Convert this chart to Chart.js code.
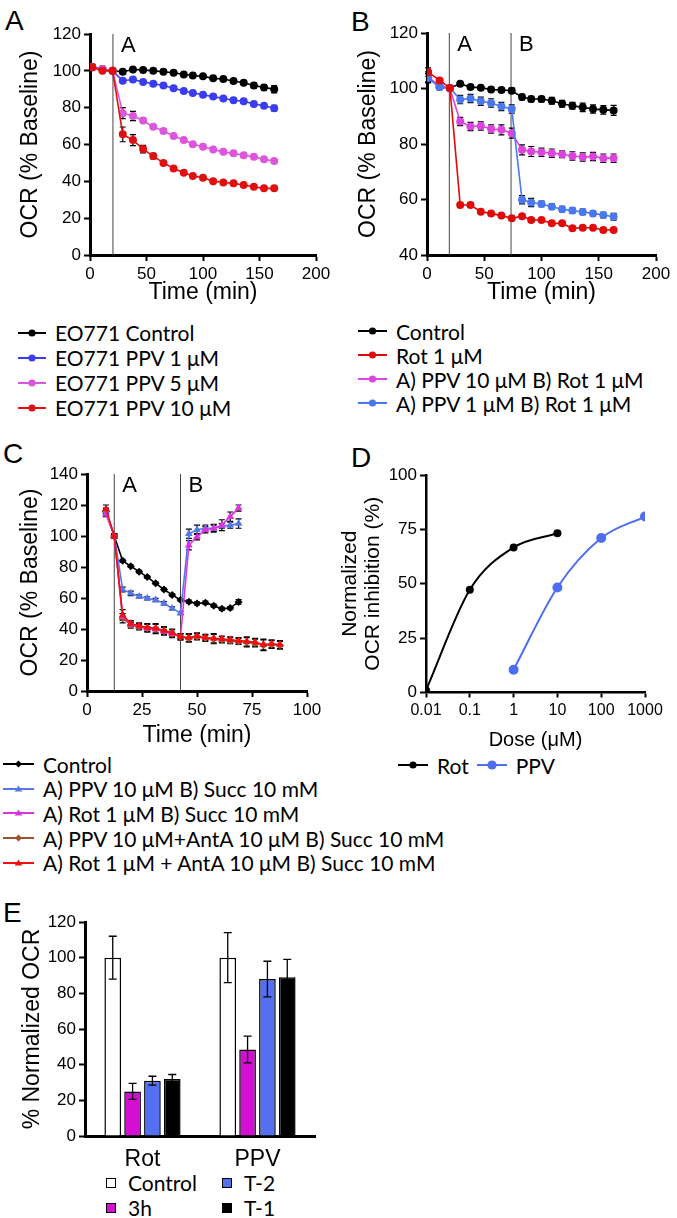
<!DOCTYPE html>
<html>
<head>
<meta charset="utf-8">
<script src="https://cdn.jsdelivr.net/npm/chart.js@4.4.0/dist/chart.umd.min.js"></script>
<style>
  body { margin: 0; background: #fff; width: 677px; height: 1218px; position: relative; overflow: hidden; }
  canvas { position: absolute; }
  .letter { position: absolute; font: 28px "Liberation Sans", Arial, sans-serif; line-height: 28px; color: #000; }
  .leg { position: absolute; font: 21px Lato, "Open Sans", sans-serif; color: #000; white-space: nowrap; }
  .leg .row { display: flex; align-items: center; }
  .leg svg { flex: none; }
</style>
</head>
<body>
<div class="letter" style="left:5px;top:7px">A</div>
<div class="letter" style="left:351px;top:8px">B</div>
<div class="letter" style="left:3px;top:440px">C</div>
<div class="letter" style="left:351px;top:444px">D</div>
<div class="letter" style="left:3px;top:899px">E</div>

<div class="leg" id="legA" style="left:18px;top:320px"></div>
<div class="leg" id="legB" style="left:358px;top:319px"></div>
<div class="leg" id="legC" style="left:3px;top:752px"></div>
<div class="leg" id="legD" style="left:398px;top:753px"></div>
<div class="leg" id="legE" style="left:106px;top:1170px"></div>

<script>
// ---- Panel A: EO771 cells, PPV doses
const timesA = [2, 11, 20, 29, 38, 47, 56, 65, 74, 83, 91, 100, 109, 118, 127, 136, 145, 154, 163];
const ctrlA = [102, 101, 100, 99.5, 100.7, 100.5, 100, 99.5, 99, 98, 97.5, 97, 96, 95.5, 94.5, 93.5, 92, 91, 90];
const ppv1A = [102, 101, 100, 94.6, 95.3, 94, 93, 92, 90.5, 89, 88, 87, 86, 85, 84, 83.5, 82, 81, 79.7];
const ppv5A = [102, 101, 100, 77, 75.5, 73, 69.6, 67.3, 64.6, 62.4, 60.2, 58.8, 57.3, 56, 55.2, 54.2, 53.3, 52, 51];
const ppv10A = [102, 100, 100, 65.5, 62.4, 57.5, 53.7, 50, 47, 44.7, 42.9, 42, 40.1, 39.4, 38.9, 38, 37.1, 36.2, 36.2];
const ctrlErrA = [1.5, 0.5, 0.5, 0.8, 0.8, 0.6, 0.6, 0.6, 0.6, 0.8, 0.8, 0.8, 0.8, 0.8, 1, 1, 1.5, 1.5, 2];
const ppv1ErrA = [1, 0.5, 0.5, 0.8, 0.8, 0.6, 0.6, 0.6, 0.6, 0.6, 0.6, 0.6, 0.8, 1, 1, 1, 1, 1, 1.5];
const ppv5ErrA = [1, 0.5, 0.5, 3, 2.5, 1.2, 1, 1, 0.8, 0.8, 0.8, 0.8, 0.8, 0.8, 0.8, 0.8, 0.8, 0.8, 1];
const ppv10ErrA = [1, 0.5, 0.5, 4, 3, 2, 1.5, 1, 0.8, 0.8, 0.8, 0.8, 0.8, 0.8, 0.8, 0.8, 0.8, 0.8, 0.8];
const labelsA = ['EO771 Control', 'EO771 PPV 1 μM', 'EO771 PPV 5 μM', 'EO771 PPV 10 μM'];
const marksA = [{ x: 20.3, label: 'A' }];

// ---- Panel B: sequential injections
const timesB = [1, 11, 20, 29, 38, 47, 56, 65, 74, 83, 91, 100, 109, 118, 127, 136, 145, 154, 163];
const ctrlB = [104, 100.5, 100.2, 101.7, 100.5, 100.3, 99.6, 99.5, 99.2, 96.9, 96.2, 96.2, 95.6, 94.5, 93.8, 93.2, 92.6, 92.3, 92.1];
const rotB = [105.9, 102.9, 100.2, 58, 58, 55.6, 55, 54.2, 53.2, 54, 52.6, 52.6, 51.4, 51.4, 49.6, 49.8, 49.8, 49, 49];
const ppv10RotB = [104, 101, 100, 88.1, 86.3, 86.5, 85.4, 85.1, 83.9, 77.9, 77.3, 77, 76.7, 76.3, 75.7, 75.3, 75.5, 74.9, 74.9];
const ppv1RotB = [103.8, 100.5, 100.2, 96, 96.4, 95.4, 94.8, 93.5, 92.6, 59.9, 58.9, 58.4, 57.4, 56.5, 56, 55.5, 55, 54.4, 53.8];
const ctrlErrB = [2, 0.8, 0.5, 0.8, 0.8, 0.8, 0.8, 0.8, 1, 1, 1, 1, 1.2, 1.2, 1.2, 1.5, 1.5, 1.5, 1.8];
const rotErrB = [1.5, 0.8, 0.5, 0.8, 0.8, 0.5, 0.5, 0.5, 0.5, 0.5, 0.5, 0.5, 0.5, 0.5, 0.5, 0.5, 0.5, 0.5, 0.5];
const ppv10RotErrB = [1.5, 0.8, 0.5, 1.5, 1.5, 1.5, 1.5, 1.8, 1.8, 1.8, 1.8, 1.5, 1.5, 1.2, 1.5, 1.5, 1.5, 1.5, 1.5];
const ppv1RotErrB = [1.5, 0.8, 0.5, 1.5, 1.5, 1.5, 1.5, 1.5, 1.5, 1.5, 1.5, 1, 1, 1, 1, 1, 1, 1, 1.2];
const labelsB = ['Control', 'Rot 1 μM', 'A) PPV 10 μM B) Rot 1 μM', 'A) PPV 1 μM B) Rot 1 μM'];
const marksB = [{ x: 19.5, label: 'A' }, { x: 73.4, label: 'B' }];

// ---- Panel C: succinate rescue
const timesC = [8.6, 12.4, 16.2, 19.9, 23.7, 27.4, 31.2, 35, 38.7, 42.5, 46.3, 50, 53.8, 57.6, 61.3, 65.1, 68.9, 72.6, 76.4, 80.2, 83.9, 87.7];
const ctrlC = [116, 100, 84, 80.5, 77, 73.5, 69.5, 65.5, 62, 58.7, 57.6, 56.5, 57, 55, 53, 53.5, 57.5];
const ppvSuccC = [116, 100, 65.5, 63, 61, 59.8, 58.7, 56.6, 53.3, 50.3, 101.5, 104, 105, 105, 106.5, 107, 108];
const rotSuccC = [114, 100, 48, 43, 42, 40.5, 40, 38.5, 37, 35, 94, 99.5, 104, 105, 107, 112.5, 118];
const ppvAntSuccC = [116, 100, 47, 42.5, 41.5, 40.5, 40, 38.5, 37, 35, 34, 35, 34, 33.5, 33, 32.5, 32, 31.5, 31, 29.5, 30, 29.5];
const rotAntSuccC = [117.5, 100, 49, 43.5, 42, 41, 40.5, 39, 37.5, 35, 34.5, 35.5, 34.5, 34, 33.5, 33, 32.5, 32, 31.5, 30, 30.5, 30];
const ctrlErrC = [1, 1, 1, 0.8, 0.8, 0.8, 0.8, 0.8, 0.8, 0.8, 1, 1, 1, 1, 1, 1, 1.5];
const ppvSuccErrC = [1.5, 1, 1.5, 1.5, 1, 1, 1, 1, 1, 1, 3, 3, 2, 2.5, 1.5, 2, 3];
const rotSuccErrC = [1.5, 1, 2, 1.5, 1, 1, 1, 1, 1, 1, 3, 2, 2, 2, 3.5, 3, 2];
const ppvAntSuccErrC = [2, 1.5, 3, 2, 2, 2.5, 3, 2.5, 2.5, 2, 2.5, 2, 2, 3, 2, 2, 2, 3, 2.5, 3.5, 2.5, 2.5];
const rotAntSuccErrC = [2.5, 1.5, 3.5, 2, 2, 2.5, 3, 2.5, 2.5, 2, 2.5, 2, 2, 3, 2, 2, 2, 3, 2.5, 3.5, 2.5, 2.5];
const labelsC = ['Control', 'A) PPV 10 μM B) Succ 10 mM', 'A) Rot 1 μM B) Succ 10 mM', 'A) PPV 10 μM+AntA 10 μM B) Succ 10 mM', 'A) Rot 1 μM + AntA 10 μM B) Succ 10 mM'];
const marksC = [{ x: 12.4, label: 'A' }, { x: 42.5, label: 'B' }];

// ---- Panel D: dose response
const doseTicksD = [0.01, 0.1, 1, 10, 100, 1000];
const rotDoseD = [0.01, 0.1, 1, 10];
const rotInhD = [1, 47.2, 66.7, 73.2];
const ppvDoseD = [1, 10, 100, 1000];
const ppvInhD = [10.5, 48.3, 71, 80.9];
const labelsD = ['Rot', 'PPV'];

// ---- Panel E: normalized OCR bars
const groupsE = ['Rot', 'PPV'];
const ctrlE = [100, 100];
const h3E = [25, 48.5];
const t2E = [31, 88];
const t1E = [32, 89];
const ctrlErrE = [12, 14];
const h3ErrE = [4.5, 7.5];
const t2ErrE = [2.5, 10];
const t1ErrE = [2.5, 10];
const labelsE = ['Control', 'T-2', '3h', 'T-1'];

// ---------------------------------------------------------------
const tickFont = { family: 'Liberation Sans, Arial', size: 17 };
const titleFont = { family: 'Liberation Sans, Arial', size: 23 };

function drawErrors(chart) {
  const ctx = chart.ctx;
  const yScale = chart.scales.y;
  chart.data.datasets.forEach((ds, i) => {
    if (!ds.errors) return;
    const meta = chart.getDatasetMeta(i);
    ctx.save();
    ctx.strokeStyle = '#000';
    ctx.lineWidth = ds.errWidth || 1.2;
    meta.data.forEach((el, j) => {
      const e = ds.errors[j];
      if (!e) return;
      const v = meta.controller.getParsed(j).y;
      const y1 = yScale.getPixelForValue(v + e);
      const y2 = yScale.getPixelForValue(v - e);
      const cap = ds.capSize || 3;
      ctx.beginPath();
      ctx.moveTo(el.x, y1); ctx.lineTo(el.x, y2);
      ctx.moveTo(el.x - cap, y1); ctx.lineTo(el.x + cap, y1);
      ctx.moveTo(el.x - cap, y2); ctx.lineTo(el.x + cap, y2);
      ctx.stroke();
    });
    ctx.restore();
  });
}

// error bars sit under the markers on line charts, over the bars on bar charts
const errorBars = {
  id: 'errorBars',
  beforeDatasetsDraw(chart) { if (chart.config.type === 'line') drawErrors(chart); },
  afterDatasetsDraw(chart) { if (chart.config.type === 'bar') drawErrors(chart); }
};

const stepMarks = {
  id: 'stepMarks',
  beforeDatasetsDraw(chart, args, opts) {
    const { ctx, chartArea } = chart;
    (opts.marks || []).forEach(m => {
      const px = chart.scales.x.getPixelForValue(m.x);
      ctx.save();
      ctx.strokeStyle = '#444';
      ctx.lineWidth = 1;
      ctx.beginPath();
      ctx.moveTo(px, chartArea.top);
      ctx.lineTo(px, chartArea.bottom);
      ctx.stroke();
      ctx.fillStyle = '#000';
      ctx.font = '22px "Liberation Sans", Arial';
      ctx.textBaseline = 'alphabetic';
      ctx.fillText(m.label, px + 8, chartArea.top + 18);
      ctx.restore();
    });
  }
};

function axis(min, max, step, fitKey, fitSize, title, extra) {
  const a = {
    type: 'linear', min, max,
    ticks: { stepSize: step, color: '#000', font: tickFont, padding: 3 },
    grid: { display: true, drawOnChartArea: false, drawTicks: true, tickLength: 6, tickWidth: 2, tickColor: '#000' },
    border: { display: true, color: '#000', width: 3 },
    afterFit: s => { s[fitKey] = fitSize; }
  };
  if (title) a.title = title;
  return Object.assign(a, extra || {});
}

function pts(xs, ys) {
  return ys.map((y, i) => ({ x: xs[i], y }));
}

function lineSet(label, xs, ys, errs, color, style, radius) {
  return {
    label, data: pts(xs, ys), errors: errs,
    borderColor: color, backgroundColor: color, borderWidth: 1.6,
    pointStyle: style || 'circle', pointRadius: radius || 4, pointBorderWidth: 0,
    pointBackgroundColor: color
  };
}

function makeChart(left, top, w, h, config) {
  const c = document.createElement('canvas');
  c.width = w; c.height = h;
  c.style.left = left + 'px'; c.style.top = top + 'px';
  c.style.width = w + 'px'; c.style.height = h + 'px';
  document.body.appendChild(c);
  config.options = Object.assign({
    responsive: false, animation: false, devicePixelRatio: 1
  }, config.options);
  config.options.plugins = Object.assign({ legend: { display: false }, tooltip: { enabled: false } }, config.options.plugins);
  config.plugins = [stepMarks, errorBars];
  return new Chart(c.getContext('2d'), config);
}

const ocrTitle = (pt) => ({ display: true, text: 'OCR (% Baseline)', color: '#000', font: titleFont, padding: { top: pt, bottom: 0 } });
const timeTitle = (pb) => ({ display: true, text: 'Time (min)', color: '#000', font: titleFont, padding: { top: 0, bottom: pb } });

// Panel A
makeChart(0, 0, 335, 310, {
  type: 'line',
  data: { datasets: [
    lineSet(labelsA[3], timesA, ppv10A, ppv10ErrA, '#e01010'),
    lineSet(labelsA[2], timesA, ppv5A, ppv5ErrA, '#dd55dd'),
    lineSet(labelsA[1], timesA, ppv1A, ppv1ErrA, '#3a3cf0'),
    lineSet(labelsA[0], timesA, ctrlA, ctrlErrA, '#000000')
  ] },
  options: {
    layout: { padding: { top: 34, right: 19, left: 0, bottom: 0 } },
    plugins: { stepMarks: { marks: marksA } },
    scales: {
      x: axis(0, 200, 50, 'height', 55, timeTitle(4)),
      y: axis(0, 120, 20, 'width', 90, ocrTitle(17))
    }
  }
});

// Panel B
makeChart(340, 0, 337, 310, {
  type: 'line',
  data: { datasets: [
    lineSet(labelsB[1], timesB, rotB, rotErrB, '#e00a0a'),
    lineSet(labelsB[3], timesB, ppv1RotB, ppv1RotErrB, '#4a78f0'),
    lineSet(labelsB[2], timesB, ppv10RotB, ppv10RotErrB, '#dd44dd'),
    lineSet(labelsB[0], timesB, ctrlB, ctrlErrB, '#000000')
  ] },
  options: {
    layout: { padding: { top: 33, right: 21, left: 0, bottom: 0 } },
    plugins: { stepMarks: { marks: marksB } },
    scales: {
      x: axis(0, 200, 50, 'height', 55, timeTitle(4)),
      y: axis(40, 120, 20, 'width', 87, ocrTitle(15))
    }
  }
});

// Panel C
makeChart(0, 450, 335, 300, {
  type: 'line',
  data: { datasets: [
    lineSet(labelsC[4], timesC, rotAntSuccC, rotAntSuccErrC, '#ee1010', 'triangle', 4.5),
    lineSet(labelsC[2], timesC, rotSuccC, rotSuccErrC, '#dd33dd', 'triangle', 4.5),
    lineSet(labelsC[1], timesC, ppvSuccC, ppvSuccErrC, '#5577ee', 'triangle', 4.5),
    lineSet(labelsC[3], timesC, ppvAntSuccC, ppvAntSuccErrC, '#a0522d', 'rectRot', 4),
    lineSet(labelsC[0], timesC, ctrlC, ctrlErrC, '#000000', 'rectRot', 4)
  ] },
  options: {
    layout: { padding: { top: 24, right: 28, left: 0, bottom: 0 } },
    plugins: { stepMarks: { marks: marksC } },
    scales: {
      x: axis(0, 100, 25, 'height', 59, timeTitle(1)),
      y: axis(0, 140, 20, 'width', 87, ocrTitle(17))
    }
  }
});

// Panel D
makeChart(338, 440, 339, 316, {
  type: 'line',
  data: { datasets: [
    { label: labelsD[0], data: pts(rotDoseD, rotInhD), borderColor: '#000', backgroundColor: '#000',
      borderWidth: 2, pointRadius: 4, pointBorderWidth: 0, cubicInterpolationMode: 'monotone' },
    { label: labelsD[1], data: pts(ppvDoseD, ppvInhD), borderColor: '#4d6ef0', backgroundColor: '#4d6ef0',
      borderWidth: 2, pointRadius: 5, pointBorderWidth: 0, cubicInterpolationMode: 'monotone' }
  ] },
  options: {
    layout: { padding: { top: 35, right: 32, left: 0, bottom: 0 } },
    scales: {
      x: {
        type: 'logarithmic', min: 0.01, max: 1000,
        afterBuildTicks: s => { s.ticks = doseTicksD.map(v => ({ value: v })); },
        ticks: { color: '#000', font: { family: 'Liberation Sans, Arial', size: 16 }, padding: 3, callback: v => String(v) },
        grid: { display: true, drawOnChartArea: false, drawTicks: true, tickLength: 5, tickWidth: 2, tickColor: '#000' },
        border: { display: true, color: '#000', width: 2.5 },
        afterFit: s => { s.height = 316 - 252.5; },
        title: { display: true, text: 'Dose (μM)', color: '#000', font: { family: 'Liberation Sans, Arial', size: 20 }, padding: { top: 0, bottom: 4 } }
      },
      y: axis(0, 100, 25, 'width', 88, {
        display: true, text: ['Normalized', 'OCR inhibition (%)'], color: '#000',
        font: { family: 'Liberation Sans, Arial', size: 21, lineHeight: 1.1 }, padding: { top: 1, bottom: 0 }
      }, { border: { display: true, color: '#000', width: 2.5 } })
    }
  }
});

// Panel E
function barSet(label, data, errs, color) {
  return { label, data, errors: errs, backgroundColor: color, borderColor: '#000', borderWidth: 1.5, capSize: 4, errWidth: 1.3 };
}
makeChart(0, 900, 335, 268, {
  type: 'bar',
  data: { labels: groupsE, datasets: [
    barSet('Control', ctrlE, ctrlErrE, '#ffffff'),
    barSet('3h', h3E, h3ErrE, '#d40fd4'),
    barSet('T-2', t2E, t2ErrE, '#5470f0'),
    barSet('T-1', t1E, t1ErrE, '#000000')
  ] },
  options: {
    datasets: { bar: { categoryPercentage: 0.69, barPercentage: 0.84 } },
    layout: { padding: { top: 22, right: 20, left: 0, bottom: 0 } },
    scales: {
      x: {
        type: 'category',
        ticks: { color: '#000', font: { family: 'Liberation Sans, Arial', size: 23 }, padding: 2 },
        grid: { display: false },
        border: { display: true, color: '#000', width: 3 },
        afterFit: s => { s.height = 32; }
      },
      y: axis(0, 120, 20, 'width', 85, {
        display: true, text: '% Normalized OCR', color: '#000', font: titleFont, padding: { top: 19, bottom: 0 }
      })
    }
  }
});

// ---- HTML legends
function markerSvg(color, shape, w) {
  const cx = w / 2;
  let m = '';
  if (shape === 'circle') m = `<circle cx="${cx}" cy="7" r="3.6" fill="${color}"/>`;
  if (shape === 'bigcircle') m = `<circle cx="${cx}" cy="7" r="4.6" fill="${color}"/>`;
  if (shape === 'tri') m = `<polygon points="${cx},3.5 ${cx + 3.8},9.5 ${cx - 3.8},9.5" fill="${color}"/>`;
  if (shape === 'diamond') m = `<polygon points="${cx},3.5 ${cx + 3.5},7 ${cx},10.5 ${cx - 3.5},7" fill="${color}"/>`;
  return `<svg width="${w}" height="14"><line x1="0" y1="7" x2="${w}" y2="7" stroke="${color}" stroke-width="2"/>${m}</svg>`;
}
function buildLegend(id, labels, colors, shapes, rowH, w, gap) {
  document.getElementById(id).innerHTML = labels.map((l, i) =>
    `<div class="row" style="height:${rowH}px">${markerSvg(colors[i], shapes[i], w)}<span style="margin-left:${gap}px">${l}</span></div>`
  ).join('');
}
buildLegend('legA', labelsA, ['#000', '#3a3cf0', '#dd55dd', '#e01010'], ['circle', 'circle', 'circle', 'circle'], 25, 28, 9);
buildLegend('legB', labelsB, ['#000', '#e00a0a', '#dd44dd', '#4a78f0'], ['circle', 'circle', 'circle', 'circle'], 24, 29, 9);
buildLegend('legC', labelsC, ['#000', '#5577ee', '#dd33dd', '#a0522d', '#ee1010'], ['diamond', 'tri', 'tri', 'diamond', 'tri'], 24.6, 31, 9);

document.getElementById('legD').innerHTML =
  `<div class="row" style="height:24px">${markerSvg('#000', 'circle', 30)}<span style="margin-left:9px;margin-right:8px">${labelsD[0]}</span>` +
  `${markerSvg('#4d6ef0', 'bigcircle', 30)}<span style="margin-left:9px">${labelsD[1]}</span></div>`;

const sqColors = { 'Control': '#ffffff', '3h': '#d40fd4', 'T-2': '#5470f0', 'T-1': '#000000' };
const sq = c => `<span style="display:inline-block;width:8px;height:8px;border:1.5px solid #000;background:${c};margin-right:12px"></span>`;
document.getElementById('legE').innerHTML = [0, 2].map(r =>
  `<div class="row" style="height:25px"><span style="display:flex;align-items:center;width:116px">${sq(sqColors[labelsE[r]])}${labelsE[r]}</span>` +
  `<span style="display:flex;align-items:center">${sq(sqColors[labelsE[r + 1]])}${labelsE[r + 1]}</span></div>`
).join('');
</script>
</body>
</html>
